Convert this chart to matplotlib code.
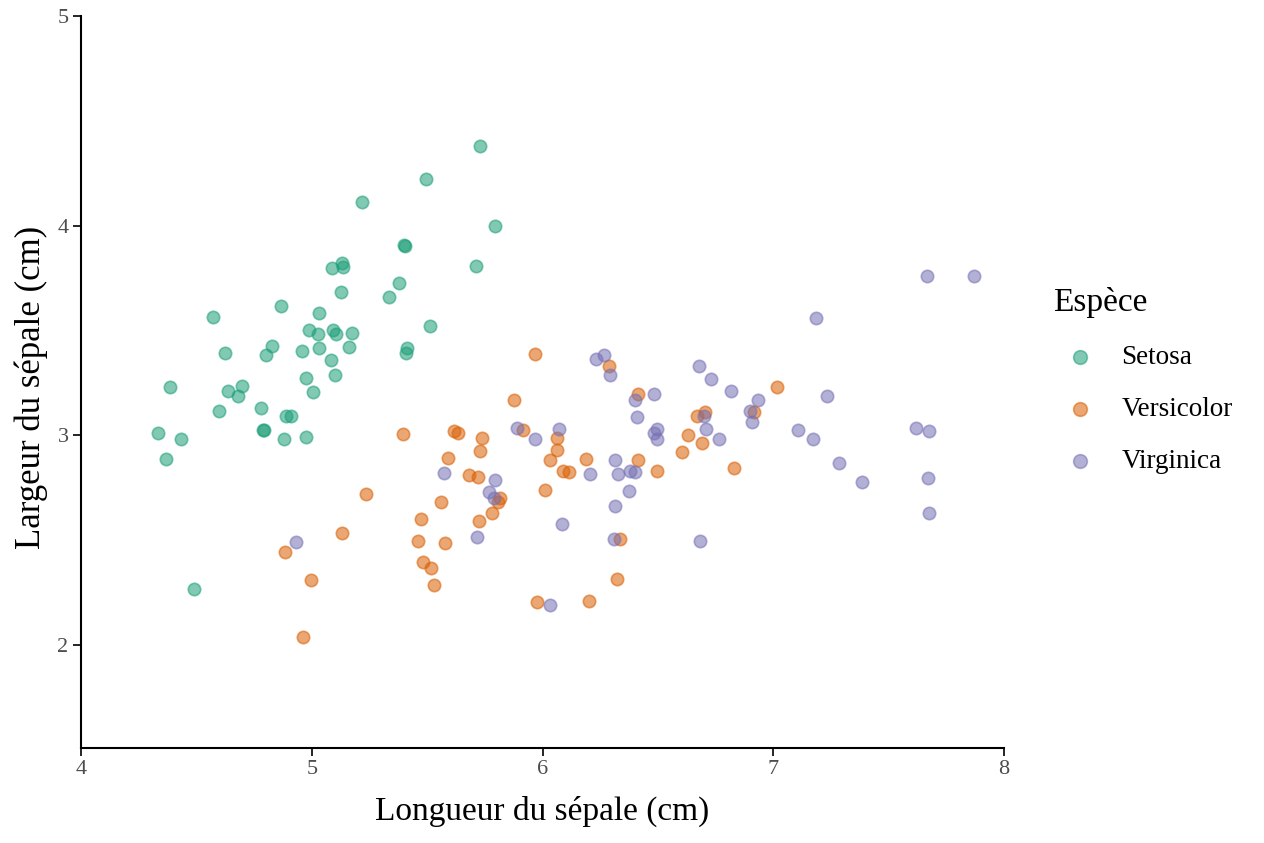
import matplotlib
matplotlib.use("Agg")
import matplotlib.pyplot as plt

species = ["Setosa", "Versicolor", "Virginica"]
colors = ["#1B9E77", "#D95F02", "#7570B3"]

setosa_x = [5.73, 5.495, 5.218, 5.794, 5.40, 5.405, 5.712, 5.131, 5.135, 5.088,
            5.378, 5.335, 5.127, 4.867, 5.031, 5.512, 4.572, 4.988, 5.092, 5.105,
            5.174, 5.027, 4.828, 5.161, 5.031, 5.413, 5.408, 4.624, 4.958, 4.802,
            5.10, 4.975, 4.386, 4.637, 4.698, 4.68, 5.005, 4.598, 4.78, 4.888,
            4.91, 4.789, 4.793, 4.334, 4.433, 4.88, 4.975, 4.368, 4.49, 5.083]
setosa_y = [4.38, 4.224, 4.114, 4.0, 3.91, 3.905, 3.81, 3.824, 3.805, 3.80,
            3.729, 3.662, 3.686, 3.619, 3.586, 3.524, 3.567, 3.505, 3.505, 3.486,
            3.49, 3.486, 3.429, 3.424, 3.419, 3.419, 3.395, 3.395, 3.405, 3.386,
            3.286, 3.276, 3.229, 3.214, 3.238, 3.19, 3.205, 3.119, 3.133, 3.095,
            3.095, 3.024, 3.024, 3.01, 2.981, 2.981, 2.995, 2.89, 2.267, 3.362]

versicolor_x = [5.395, 5.235, 5.131, 4.884, 4.997, 4.962, 5.967, 6.288, 6.414, 5.876,
                5.616, 5.634, 5.915, 6.063, 5.738, 5.729, 6.063, 5.59, 6.032, 6.189,
                6.414, 5.681, 5.72, 6.089, 6.115, 6.496, 6.011, 5.816, 5.807, 5.781,
                5.56, 5.473, 5.725, 5.46, 5.577, 6.336, 5.482, 5.517, 5.53, 6.323,
                5.976, 6.202, 7.016, 6.917, 6.67, 6.704, 6.631, 6.691, 6.605, 6.83]
versicolor_y = [3.005, 2.72, 2.533, 2.443, 2.31, 2.038, 3.39, 3.333, 3.2, 3.167,
                3.019, 3.014, 3.024, 2.986, 2.986, 2.924, 2.929, 2.895, 2.881, 2.886,
                2.881, 2.81, 2.80, 2.829, 2.824, 2.829, 2.738, 2.70, 2.681, 2.629,
                2.681, 2.60, 2.59, 2.495, 2.486, 2.505, 2.395, 2.367, 2.286, 2.314,
                2.205, 2.21, 3.233, 3.114, 3.095, 3.114, 3.0, 2.962, 2.919, 2.843]

virginica_x = [4.932, 6.232, 6.267, 6.293, 6.40, 6.483, 6.41, 5.89, 5.967, 6.071,
               6.496, 6.483, 6.496, 6.314, 5.573, 6.206, 6.327, 6.379, 6.40, 5.794,
               6.375, 5.768, 5.79, 6.314, 6.085, 5.716, 6.31, 6.032, 6.678, 6.73,
               6.817, 7.233, 6.934, 6.899, 6.908, 6.70, 6.709, 6.765, 7.107, 7.172,
               7.285, 6.683, 7.666, 7.87, 7.185, 7.385, 7.619, 7.675, 7.671, 7.675]
virginica_y = [2.49, 3.367, 3.386, 3.286, 3.171, 3.20, 3.086, 3.038, 2.981, 3.029,
               3.033, 3.01, 2.981, 2.881, 2.819, 2.814, 2.814, 2.829, 2.824, 2.79,
               2.733, 2.729, 2.70, 2.662, 2.576, 2.514, 2.505, 2.19, 3.329, 3.271,
               3.21, 3.19, 3.167, 3.119, 3.062, 3.095, 3.033, 2.981, 3.024, 2.981,
               2.867, 2.495, 3.762, 3.762, 3.562, 2.776, 3.038, 3.019, 2.795, 2.629]

xs = [setosa_x, versicolor_x, virginica_x]
ys = [setosa_y, versicolor_y, virginica_y]

x_ticks = [4, 5, 6, 7, 8]
y_ticks = [2, 3, 4, 5]

plt.rcParams['font.family'] = ['Liberation Serif', 'DejaVu Serif']

fig = plt.figure(figsize=(12.64, 8.43), dpi=100)
ax = fig.add_axes([81/1264, 1-748/843, (1004-81)/1264, (748-16)/843])

for name, c, x, y in zip(species, colors, xs, ys):
    ax.scatter(x, y, s=80, color=c, alpha=0.55, edgecolors=c, linewidths=1.2,
               label=name, zorder=3)

ax.set_xlim(4, 8)
ax.set_ylim(1.51, 5)
ax.set_xticks(x_ticks)
ax.set_yticks(y_ticks)
ax.spines['top'].set_visible(False)
ax.spines['right'].set_visible(False)
for s in ['left', 'bottom']:
    ax.spines[s].set_linewidth(1.5)
ax.tick_params(axis='both', which='major', length=6, width=1.2, labelsize=16,
               colors='black', labelcolor='#4D4D4D', pad=3)
ax.set_xlabel("Longueur du sépale (cm)", fontsize=24, labelpad=12)
ax.set_ylabel("Largeur du sépale (cm)", fontsize=25, labelpad=6)
ax.yaxis.set_label_coords(-33/923, (748-387)/732)

leg = ax.legend(title="Espèce", loc='upper left', bbox_to_anchor=(1042/1264, 1-276/843),
                bbox_transform=fig.transFigure, frameon=False, fontsize=19.5,
                title_fontsize=24, labelspacing=1.0, handletextpad=0.565,
                handlelength=1.97, markerscale=1.1, borderaxespad=0)
leg._legend_box.align = "left"

fig.savefig("out.png", dpi=100)
